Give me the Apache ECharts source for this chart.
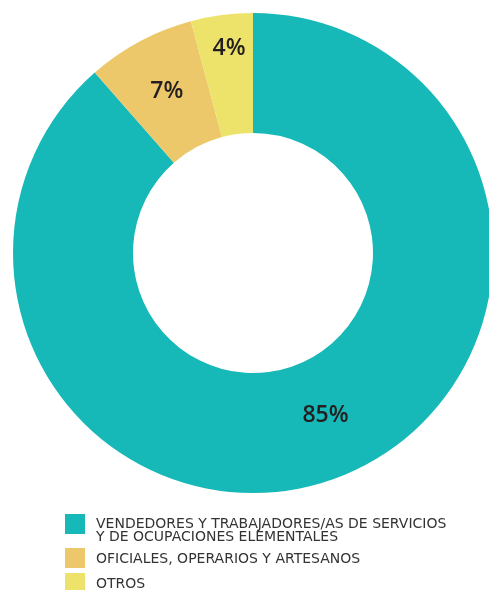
<!DOCTYPE html>
<html>
<head>
<meta charset="utf-8">
<script src="https://cdn.jsdelivr.net/npm/echarts@6/dist/echarts.min.js"></script>
<style>
  html, body { margin:0; padding:0; background:#fff; }
  #chart { width:489px; height:590px; }
</style>
</head>
<body>
<div id="chart"></div>
<script>
	var categories = [
		'VENDEDORES Y TRABAJADORES/AS DE SERVICIOS\nY DE OCUPACIONES ELEMENTALES',
		'OFICIALES, OPERARIOS Y ARTESANOS',
		'OTROS'
	];
	var values = [85, 7, 4];
	var colors = ['#17b8b8', '#edc86b', '#ede36a'];

	var myChart = echarts.init(document.getElementById('chart'));

	/*数据*/
	var labelOffsets = [[8, -9], [0, 0], [0, -23]];
	var dataArr = [];
	for (var i = 0; i < categories.length; i++) {
		var obj = {};
		obj.name = categories[i];
		obj.value = values[i];
		obj.itemStyle = { color: colors[i] };
		obj.label = { offset: labelOffsets[i] };
		dataArr.push(obj);
	}

	/*图例*/
	var legendTops = [504, 548, 573];
	var legends = [];
	for (var j = 0; j < categories.length; j++) {
		legends.push({
			data: [categories[j]],
			left: 65,
			top: legendTops[j],
			padding: 0,
			orient: 'vertical',
			itemWidth: 20,
			itemHeight: 20,
			icon: 'rect',
			selectedMode: false,
			itemStyle: { borderWidth: 0 },
			formatter: function (name) {
				var lines = name.split('\n');
				if (lines.length == 1) return name;
				// 第一项两行，文字整体下移
				return '{s| }\n{t|' + lines[0] + '}\n{t|' + lines[1] + '}';
			},
			textStyle: {
				fontFamily: 'DejaVu Sans',
				fontSize: 14,
				color: '#333',
				lineHeight: 13,
				padding: [2, 0, 0, 6],
				rich: {
					s: { fontSize: 1, lineHeight: 12 },
					t: { fontFamily: 'DejaVu Sans', fontSize: 14, color: '#333', lineHeight: 13 }
				}
			}
		});
	}

	var option = {
		animation: false,
		color: colors,
		legend: legends,
		series: [
			{
				type: 'pie',
				center: [253, 253],
				radius: [120, 240],
				startAngle: 90,
				clockwise: true,
				avoidLabelOverlap: false,
				itemStyle: { borderWidth: 0 },
				label: {
					show: true,
					position: 'inside',
					formatter: '{c}%',
					fontFamily: 'Open Sans',
					fontWeight: 600,
					fontSize: 23,
					color: '#231f20'
				},
				labelLine: { show: false },
				data: dataArr
			}
		]
	};
	myChart.setOption(option);
</script>
</body>
</html>
